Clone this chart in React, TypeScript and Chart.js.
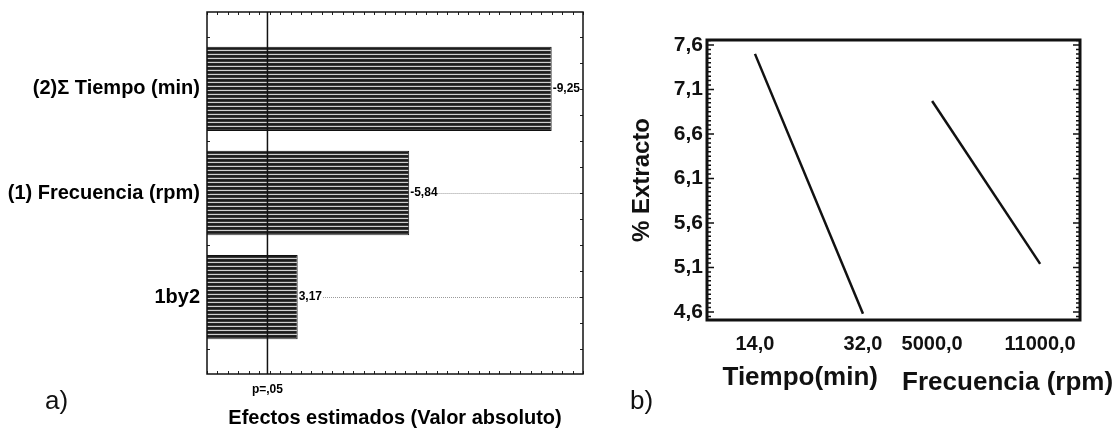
import React, { useEffect, useRef } from "react";
import { Chart, registerables } from "chart.js";

Chart.register(...registerables);

// ---------- Data: panel a (Pareto of standardized effects) ----------
const effectLabels = ["(2)\u03A3 Tiempo (min)", "(1) Frecuencia (rpm)", "1by2"];
const effectValues = [-9.25, -5.84, 3.17];
const pCritical = 2.447;
const pLabel = "p=,05";
const effectAxisTitle = "Efectos estimados (Valor absoluto)";

// ---------- Data: panel b (main effects) ----------
const factorNames = ["Tiempo(min)", "Frecuencia (rpm)"];
const tiempoLevels = ["14,0", "32,0"];
const frecuenciaLevels = ["5000,0", "11000,0"];
const tiempoMeans = [7.5, 4.58];
const frecuenciaMeans = [6.97, 5.14];
const yTicksB = [4.6, 5.1, 5.6, 6.1, 6.6, 7.1, 7.6];
const yTitleB = "% Extracto";

// layout: where each factor's two levels sit on the shared x axis
const factorOffsets = [0, 1.64];

const FONT = "'Liberation Sans', Arial, Helvetica, sans-serif";
const comma = (v: number, d: number) => v.toFixed(d).replace(".", ",");

function makeStripes(): CanvasPattern | string {
  const c = document.createElement("canvas");
  c.width = 4;
  c.height = 4;
  const g = c.getContext("2d");
  if (!g) return "#333";
  const rows = ["#1c1c1c", "#3c3c3c", "#d0d0d0", "#262626"];
  rows.forEach((col, i) => {
    g.fillStyle = col;
    g.fillRect(0, i, 4, 1);
  });
  return g.createPattern(c, "repeat") || "#333";
}

const panelAPlugin = {
  id: "panelA",
  afterDatasetsDraw(chart: any) {
    const { ctx, chartArea: ca, scales } = chart;
    const xs = scales.x;
    const ys = scales.y;
    ctx.save();
    // value labels and dotted leaders
    const meta = chart.getDatasetMeta(0);
    ctx.font = `bold 12px ${FONT}`;
    ctx.textBaseline = "middle";
    ctx.textAlign = "left";
    meta.data.forEach((bar: any, i: number) => {
      const txt = comma(effectValues[i], 2);
      const tx = bar.x + 1;
      ctx.fillStyle = "#000";
      ctx.fillText(txt, tx, bar.y);
      const w = ctx.measureText(txt).width;
      const sx = tx + w + 1;
      if (sx < ca.right - 2) {
        ctx.strokeStyle = "#9a9a9a";
        ctx.lineWidth = 1;
        ctx.setLineDash([1, 1]);
        ctx.beginPath();
        ctx.moveTo(sx, Math.round(bar.y) + 0.5);
        ctx.lineTo(ca.right, Math.round(bar.y) + 0.5);
        ctx.stroke();
        ctx.setLineDash([]);
      }
    });
    // p = .05 reference line
    const px = xs.getPixelForValue(pCritical);
    ctx.strokeStyle = "#111";
    ctx.lineWidth = 1.5;
    ctx.beginPath();
    ctx.moveTo(px, ca.top);
    ctx.lineTo(px, ca.bottom);
    ctx.stroke();
    // inner tick marks
    ctx.lineWidth = 1;
    ctx.strokeStyle = "#222";
    ctx.beginPath();
    for (let k = 4; k <= 40; k++) {
      const x = Math.round(xs.getPixelForValue(k / 4)) + 0.5;
      ctx.moveTo(x, ca.bottom);
      ctx.lineTo(x, ca.bottom - 3);
      ctx.moveTo(x, ca.top);
      ctx.lineTo(x, ca.top + 3);
    }
    for (let k = -2; k <= 10; k++) {
      const y = Math.round(ys.getPixelForValue(k / 4)) + 0.5;
      ctx.moveTo(ca.left, y);
      ctx.lineTo(ca.left + 3, y);
      ctx.moveTo(ca.right, y);
      ctx.lineTo(ca.right - 3, y);
    }
    ctx.stroke();
    // frame
    ctx.lineWidth = 1.5;
    ctx.strokeStyle = "#111";
    ctx.strokeRect(ca.left, ca.top, ca.right - ca.left, ca.bottom - ca.top);
    // panel letter
    ctx.font = `26px ${FONT}`;
    ctx.fillStyle = "#111";
    ctx.textBaseline = "middle";
    ctx.fillText("a)", 45, 402);
    ctx.restore();
  },
};

const panelBPlugin = {
  id: "panelB",
  afterDatasetsDraw(chart: any) {
    const { ctx, chartArea: ca, scales } = chart;
    const xs = scales.x;
    const ys = scales.y;
    ctx.save();
    // inner tick marks on left and right borders
    ctx.strokeStyle = "#111";
    ctx.lineWidth = 1.5;
    ctx.beginPath();
    for (let k = 91; k <= 153; k++) {
      const v = k * 0.05;
      const y = ys.getPixelForValue(v);
      const len = (k - 92) % 10 === 0 ? 7 : 4;
      ctx.moveTo(ca.left, y);
      ctx.lineTo(ca.left + len, y);
      ctx.moveTo(ca.right, y);
      ctx.lineTo(ca.right - len, y);
    }
    ctx.stroke();
    // frame
    ctx.lineWidth = 3;
    ctx.strokeRect(ca.left, ca.top, ca.right - ca.left, ca.bottom - ca.top);
    // factor titles under the level labels
    ctx.fillStyle = "#111";
    ctx.font = `bold 26px ${FONT}`;
    ctx.textBaseline = "middle";
    ctx.textAlign = "right";
    ctx.fillText(factorNames[0], xs.getPixelForValue(factorOffsets[0] + 1) + 15, 378);
    ctx.textAlign = "left";
    ctx.fillText(factorNames[1], xs.getPixelForValue(factorOffsets[1]) - 30, 383);
    // panel letter
    ctx.font = `26px ${FONT}`;
    ctx.fillText("b)", 30, 402);
    ctx.restore();
  },
};

export default function App() {
  const refA = useRef<HTMLCanvasElement>(null);
  const refB = useRef<HTMLCanvasElement>(null);

  useEffect(() => {
    const stripes = makeStripes();
    const chartA = new Chart(refA.current as HTMLCanvasElement, {
      type: "bar",
      data: {
        datasets: [
          {
            data: effectValues.map((v, i) => ({ x: Math.abs(v), y: i })),
            backgroundColor: stripes as any,
            borderColor: "#111",
            borderWidth: 1,
            barPercentage: 0.81,
            categoryPercentage: 1,
          },
        ],
      },
      options: {
        indexAxis: "y",
        animation: false,
        responsive: false,
        layout: { padding: { top: 12, right: 17, left: 0, bottom: 0 } },
        plugins: { legend: { display: false }, tooltip: { enabled: false } },
        scales: {
          x: {
            type: "linear",
            min: 1,
            max: 10,
            offset: false,
            grid: { display: false, drawTicks: false },
            border: { display: false },
            afterBuildTicks: (s: any) => {
              s.ticks = [{ value: pCritical }];
            },
            ticks: {
              callback: () => pLabel,
              font: { family: FONT, size: 12, weight: "bold" },
              color: "#000",
              padding: 8,
              autoSkip: false,
              maxRotation: 0,
            },
            title: {
              display: true,
              text: effectAxisTitle,
              font: { family: FONT, size: 20, weight: "bold" },
              color: "#000",
              padding: { top: 0, bottom: -2 },
            },
            afterFit: (s: any) => {
              s.height = 54;
            },
          } as any,
          y: {
            type: "linear",
            min: -0.74,
            max: 2.74,
            reverse: true,
            offset: false,
            grid: { display: false, drawTicks: false },
            border: { display: false },
            afterBuildTicks: (s: any) => {
              s.ticks = effectLabels.map((_, i) => ({ value: i }));
            },
            ticks: {
              callback: (_v: any, i: number) => effectLabels[i],
              font: { family: FONT, size: 20, weight: "bold" },
              color: "#000",
              padding: 7,
              autoSkip: false,
            },
            afterFit: (s: any) => {
              s.width = 207;
              s.paddingTop = 0;
              s.paddingBottom = 0;
            },
          } as any,
        },
      },
      plugins: [panelAPlugin],
    } as any);

    const xTickValues = [
      factorOffsets[0],
      factorOffsets[0] + 1,
      factorOffsets[1],
      factorOffsets[1] + 1,
    ];
    const xTickLabels = [...tiempoLevels, ...frecuenciaLevels];

    const chartB = new Chart(refB.current as HTMLCanvasElement, {
      type: "line",
      data: {
        datasets: [
          {
            data: tiempoMeans.map((m, i) => ({ x: factorOffsets[0] + i, y: m })),
            borderColor: "#111",
            borderWidth: 2.5,
            pointRadius: 0,
            fill: false,
          },
          {
            data: frecuenciaMeans.map((m, i) => ({ x: factorOffsets[1] + i, y: m })),
            borderColor: "#111",
            borderWidth: 2.5,
            pointRadius: 0,
            fill: false,
          },
        ],
      },
      options: {
        animation: false,
        responsive: false,
        layout: { padding: { top: 40, right: 34, left: 0, bottom: 0 } },
        plugins: { legend: { display: false }, tooltip: { enabled: false } },
        scales: {
          x: {
            type: "linear",
            min: -0.444,
            max: 3.009,
            grid: { display: false, drawTicks: false },
            border: { display: false },
            afterBuildTicks: (s: any) => {
              s.ticks = xTickValues.map((v) => ({ value: v }));
            },
            ticks: {
              callback: (_v: any, i: number) => xTickLabels[i],
              font: { family: FONT, size: 20, weight: "bold" },
              color: "#111",
              padding: 12,
              autoSkip: false,
              maxRotation: 0,
            },
            afterFit: (s: any) => {
              s.height = 108;
            },
          } as any,
          y: {
            type: "linear",
            min: 4.51,
            max: 7.656,
            grid: { display: false, drawTicks: false },
            border: { display: false },
            afterBuildTicks: (s: any) => {
              s.ticks = yTicksB.map((v) => ({ value: v }));
            },
            ticks: {
              callback: (v: any) => comma(Number(v), 1),
              font: { family: FONT, size: 21, weight: "bold" },
              color: "#111",
              padding: 4,
              autoSkip: false,
            },
            title: {
              display: true,
              text: yTitleB,
              font: { family: FONT, size: 24, weight: "bold" },
              color: "#111",
              padding: { top: 28, bottom: 0 },
            },
            afterFit: (s: any) => {
              s.width = 107;
            },
          } as any,
        },
      },
      plugins: [panelBPlugin],
    } as any);

    return () => {
      chartA.destroy();
      chartB.destroy();
    };
  }, []);

  return (
    <div
      style={{
        position: "fixed",
        left: 0,
        top: 0,
        width: 1114,
        height: 428,
        background: "#fff",
        overflow: "hidden",
      }}
    >
      <canvas
        ref={refA}
        width={600}
        height={428}
        style={{ position: "absolute", left: 0, top: 0, width: 600, height: 428 }}
      />
      <canvas
        ref={refB}
        width={514}
        height={428}
        style={{ position: "absolute", left: 600, top: 0, width: 514, height: 428 }}
      />
    </div>
  );
}
